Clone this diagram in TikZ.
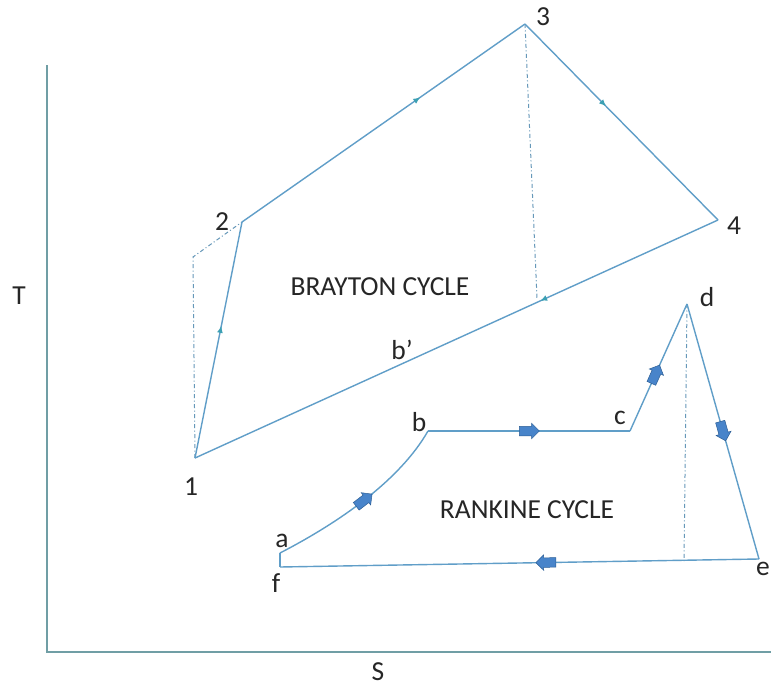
\documentclass[tikz,border=0pt]{standalone}
\usepackage{fontspec}
\setmainfont{Carlito}
\usetikzlibrary{arrows.meta,shapes.arrows,decorations.markings}
\definecolor{cyc}{RGB}{96,158,200}
\definecolor{axc}{RGB}{112,158,165}
\definecolor{tipc}{RGB}{60,160,180}
\definecolor{blkfill}{RGB}{72,132,202}
\definecolor{blkdraw}{RGB}{45,95,150}
\definecolor{txt}{RGB}{38,38,38}
\tikzset{
  lbl/.style={font=\fontsize{27.5}{32}\selectfont, text=txt, inner sep=0pt},
  cycline/.style={draw=cyc, line width=1.4pt},
  axline/.style={draw=axc, line width=1.5pt},
  dashdot/.style={draw=cyc!80!gray, line width=1pt, dash pattern=on 4pt off 2.5pt on 1pt off 2.5pt},
  tipat/.style={postaction={decorate}, decoration={markings, mark=at position #1 with {\arrow[tipc]{Latex[length=7pt,width=6pt]}}}},
  blockarr/.style={single arrow, fill=blkfill, draw=blkdraw, line width=0.5pt, minimum height=20pt, minimum width=15pt, single arrow head extend=3pt, inner sep=4.5pt, outer sep=0pt, transform shape},
  blkat/.style={postaction={decorate}, decoration={markings, mark=at position #1 with {\node[blockarr] {};}}}
}
\begin{document}
\begin{tikzpicture}[x=1pt,y=-1pt]
\useasboundingbox[fill=white] (0,0) rectangle (771,688);
% axes
\coordinate (O) at (47,652);
\coordinate (Ytop) at (47,65);
\coordinate (Xend) at (771,652);
\draw[axline] (Ytop) -- (O) -- (Xend);
\node[lbl] (T) at (19,296) {T};
\node[lbl] (S) at (378,672) {S};
% Brayton points
\coordinate (p1) at (195,458);
\coordinate (p2) at (242,222);
\coordinate (p3) at (525,24);
\coordinate (p4) at (718,220);
\coordinate (p1v) at (193,257);
\coordinate (bb) at (537,298);
\draw[dashdot] (p1) -- (p1v) -- (p2);
\draw[dashdot] (p3) -- (bb);
\draw[cycline, tipat=0.56] (p1) -- (p2);
\draw[cycline, tipat=0.63] (p2) -- (p3);
\draw[cycline, tipat=0.42] (p3) -- (p4);
\draw[cycline, tipat=0.34] (p4) -- (p1);
\node[lbl] (l1) at (191,487) {1};
\node[lbl] (l2) at (222,222) {2};
\node[lbl] (l3) at (543,17) {3};
\node[lbl] (l4) at (734,226) {4};
\node[lbl] (lbp) at (402,350) {b’};
\node[lbl] (brayton) at (380,287) {BRAYTON CYCLE};
% Rankine points
\coordinate (pf) at (280,567);
\coordinate (pa) at (280,553);
\coordinate (pb) at (428,431);
\coordinate (pc) at (630,431);
\coordinate (pd) at (687,304);
\coordinate (pe) at (759,559);
\coordinate (pdd) at (684,561);
\draw[dashdot] (pd) -- (pdd);
\draw[cycline] (pf) -- (pa);
\draw[cycline, blkat=0.5] (pa) .. controls (340,522) and (400,480) .. (pb);
\draw[cycline, blkat=0.49] (pb) -- (pc);
\draw[cycline, blkat=0.43] (pc) -- (pd);
\draw[cycline, blkat=0.49] (pd) -- (pe);
\draw[cycline, blkat=0.44] (pe) -- (pf);
\node[lbl] (la) at (282,541) {a};
\node[lbl] (lf) at (276,583) {f};
\node[lbl] (lb) at (419,422) {b};
\node[lbl] (lc) at (620,418) {c};
\node[lbl] (ld) at (707,297) {d};
\node[lbl] (le) at (763,569) {e};
\node[lbl] (rankine) at (527,510) {RANKINE CYCLE};
\end{tikzpicture}
\end{document}
